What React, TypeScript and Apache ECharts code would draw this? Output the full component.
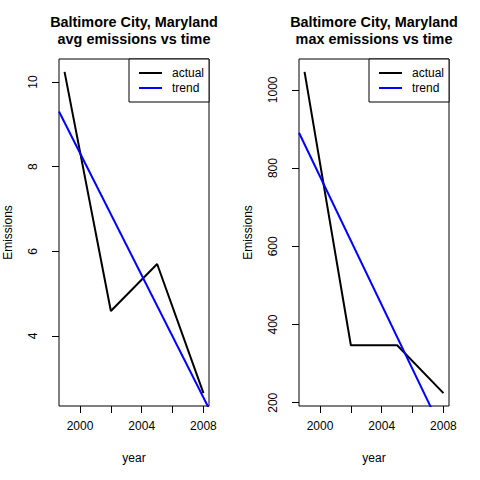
import React, { useEffect, useRef } from "react";
import * as echarts from "echarts";

const years = [1999, 2002, 2005, 2008];
const avgEmissions = [10.24, 4.59, 5.7, 2.65];
const maxEmissions = [1046, 347, 347, 224.5];
const xTicks = [2000, 2002, 2004, 2006, 2008];
const xLabels = [2000, 2004, 2008];
const avgTicks = [4, 6, 8, 10];
const maxTicks = [200, 400, 600, 800, 1000];
const titles = [
  ["Baltimore City, Maryland", "avg emissions vs time"],
  ["Baltimore City, Maryland", "max emissions vs time"],
];
const legendNames = ["actual", "trend"];

const FONT = '"Liberation Sans", Arial, Helvetica, sans-serif';

function rRange(v: number[]): [number, number] {
  const lo = Math.min(...v);
  const hi = Math.max(...v);
  const e = (hi - lo) * 0.04;
  return [lo - e, hi + e];
}

function fit(xs: number[], ys: number[]) {
  const mx = xs.reduce((a, b) => a + b, 0) / xs.length;
  const my = ys.reduce((a, b) => a + b, 0) / ys.length;
  let sxy = 0;
  let sxx = 0;
  xs.forEach((x, i) => {
    sxy += (x - mx) * (ys[i] - my);
    sxx += (x - mx) * (x - mx);
  });
  const b = sxy / sxx;
  return (x: number) => my + b * (x - mx);
}

export default function App() {
  const ref = useRef<HTMLDivElement>(null);
  useEffect(() => {
    if (!ref.current) return;
    const chart = echarts.init(ref.current, undefined, { renderer: "svg" });
    const [xmin, xmax] = rRange(years);
    const panels = [
      { data: avgEmissions, ticks: avgTicks, left: 59 },
      { data: maxEmissions, ticks: maxTicks, left: 299 },
    ];
    const grids: any[] = [];
    const xAxes: any[] = [];
    const yAxes: any[] = [];
    const series: any[] = [];
    const legends: any[] = [];
    const graphics: any[] = [];
    const plain = (v: number) => String(v);
    panels.forEach((p, i) => {
      const [ymin, ymax] = rRange(p.data);
      const f = fit(years, p.data);
      grids.push({
        left: p.left,
        top: 59,
        width: 150,
        height: 347,
        show: true,
        borderColor: "#000",
        borderWidth: 1,
        backgroundColor: "transparent",
      });
      xAxes.push({
        type: "value",
        gridIndex: i,
        min: xmin,
        max: xmax,
        name: "year",
        nameLocation: "middle",
        nameGap: 46,
        nameTextStyle: { fontSize: 12, color: "#000", fontFamily: FONT },
        axisLine: { show: false, onZero: false },
        axisTick: {
          show: true,
          length: 7,
          lineStyle: { color: "#000" },
          customValues: xTicks,
        },
        axisLabel: {
          fontSize: 12,
          color: "#000",
          fontFamily: FONT,
          margin: 14,
          customValues: xLabels,
          formatter: plain,
        },
        splitLine: { show: false },
      });
      yAxes.push({
        type: "value",
        gridIndex: i,
        min: ymin,
        max: ymax,
        name: "Emissions",
        nameLocation: "middle",
        nameGap: 45,
        nameTextStyle: { fontSize: 12, color: "#000", fontFamily: FONT },
        axisLine: { show: false, onZero: false },
        axisTick: {
          show: true,
          length: 7,
          lineStyle: { color: "#000" },
          customValues: p.ticks,
        },
        axisLabel: {
          fontSize: 12,
          color: "#000",
          fontFamily: FONT,
          rotate: 90,
          margin: 20,
          customValues: p.ticks,
          formatter: plain,
        },
        splitLine: { show: false },
      });
      series.push({
        type: "line",
        name: legendNames[0],
        xAxisIndex: i,
        yAxisIndex: i,
        data: years.map((y, k) => [y, p.data[k]]),
        showSymbol: false,
        lineStyle: { color: "#000", width: 2 },
        itemStyle: { color: "#000" },
        clip: true,
      });
      series.push({
        type: "line",
        name: legendNames[1],
        xAxisIndex: i,
        yAxisIndex: i,
        data: [
          [xmin, f(xmin)],
          [xmax, f(xmax)],
        ],
        showSymbol: false,
        lineStyle: { color: "#0000ff", width: 2 },
        itemStyle: { color: "#0000ff" },
        clip: true,
      });
      legends.push({
        data: legendNames,
        orient: "vertical",
        left: p.left + 70,
        top: 59,
        padding: [8, 5, 8, 10],
        itemGap: 3,
        itemWidth: 23,
        itemHeight: 2,
        icon: "rect",
        backgroundColor: "#fff",
        borderColor: "#000",
        borderWidth: 1,
        borderRadius: 0,
        selectedMode: false,
        textStyle: {
          fontSize: 12,
          color: "#000",
          fontFamily: FONT,
          padding: [0, 0, 0, 5],
        },
      });
      const cx = p.left + 75;
      titles[i].forEach((t, k) => {
        graphics.push({
          type: "text",
          x: cx,
          y: 22 + k * 17,
          style: {
            text: t,
            fontSize: 14.4,
            fontWeight: "bold",
            fontFamily: FONT,
            fill: "#000",
            textAlign: "center",
            textVerticalAlign: "middle",
          },
        });
      });
    });
    chart.setOption({
      animation: false,
      backgroundColor: "#fff",
      grid: grids,
      xAxis: xAxes,
      yAxis: yAxes,
      series,
      legend: legends,
      graphic: graphics,
    });
    return () => chart.dispose();
  }, []);
  return (
    <div
      ref={ref}
      style={{ position: "fixed", left: 0, top: 0, width: 480, height: 480 }}
    />
  );
}
